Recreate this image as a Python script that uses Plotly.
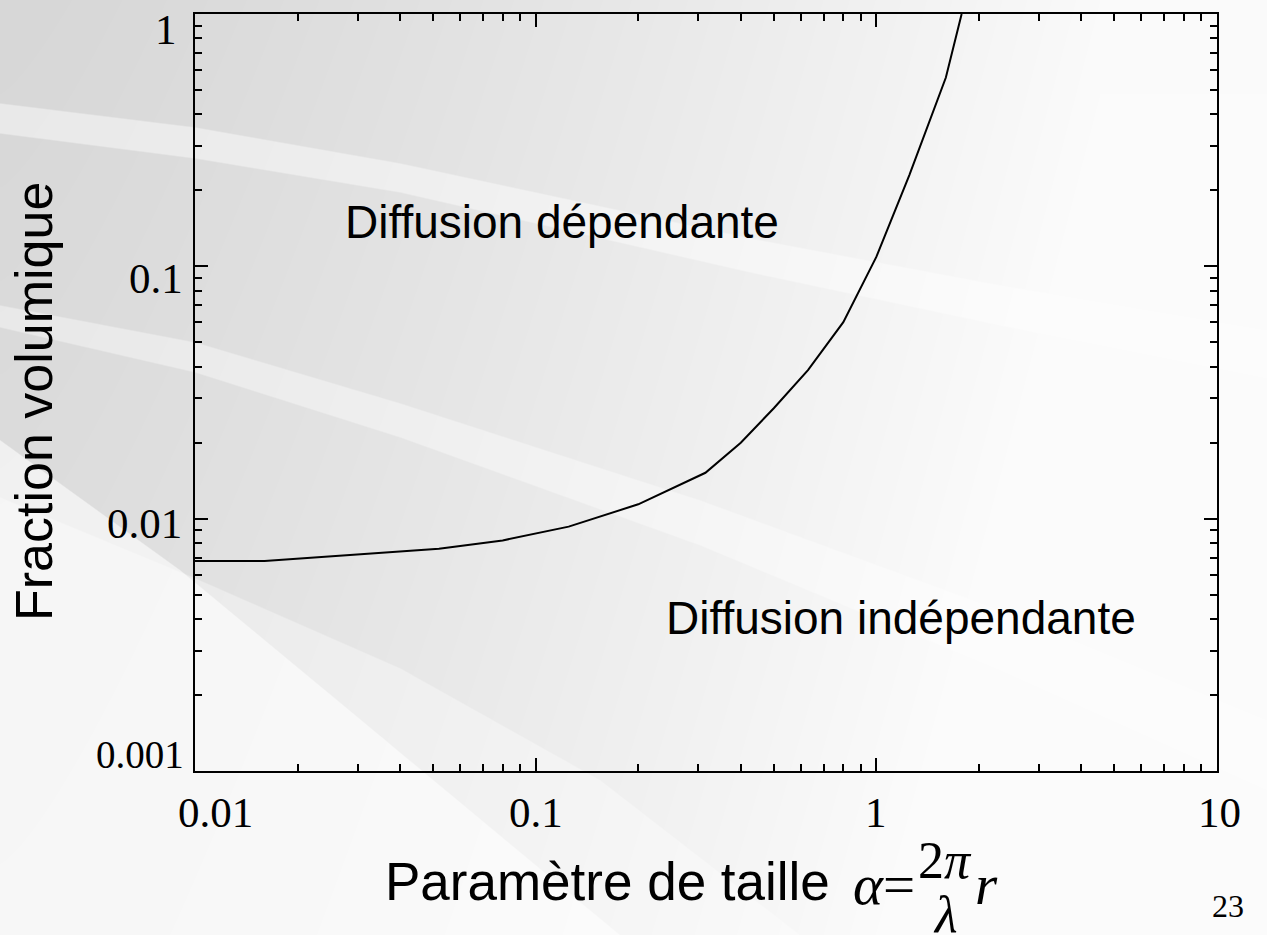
import base64
import math
import struct
import zlib

import numpy as np
import plotly.graph_objects as go

# ---- data -------------------------------------------------------------
size_param = [0.01, 0.016, 0.052, 0.08, 0.125, 0.2, 0.315, 0.4, 0.5, 0.63, 0.8, 1.0, 1.25, 1.6, 1.78]
vol_fraction = [0.0068, 0.0068, 0.0076, 0.0082, 0.0093, 0.0114, 0.0152, 0.0200, 0.0274, 0.0388,
                0.0601, 0.109, 0.23, 0.56, 1.0]

x_major = [0.01, 0.1, 1, 10]
x_major_text = ["0.01", "0.1", "1", "10"]
y_major = [0.001, 0.01, 0.1, 1]
y_major_text = ["0.001", "0.01", "0.1", "1"]

region_labels = ["Diffusion dépendante", "Diffusion indépendante"]
y_title = "Fraction volumique"
x_title = "Paramètre de taille"
slide_number = "23"

# ---- geometry ---------------------------------------------------------
W, H = 1267, 935
ML, MR, MT, MB = 195, 50, 14, 164
PW, PH = W - ML - MR, H - MT - MB


def minor_ticks(lo_exp, hi_exp):
    return [m * 10.0 ** e for e in range(lo_exp, hi_exp) for m in range(2, 10)]


def px_x(px):
    return (px - ML) / PW


def px_y(py):
    return 1 - (py - MT) / PH


# ---- slide background (grey gradient with light swooshes) -------------
def png_uri(gray):
    h, w = gray.shape
    raw = np.hstack([np.zeros((h, 1), np.uint8), gray]).tobytes()

    def chunk(tag, data):
        return (struct.pack(">I", len(data)) + tag + data
                + struct.pack(">I", zlib.crc32(tag + data) & 0xFFFFFFFF))

    png = (b"\x89PNG\r\n\x1a\n"
           + chunk(b"IHDR", struct.pack(">IIBBBBB", w, h, 8, 0, 0, 0, 0))
           + chunk(b"IDAT", zlib.compress(raw, 9))
           + chunk(b"IEND", b""))
    return "data:image/png;base64," + base64.b64encode(png).decode()


def background():
    X, Y = np.meshgrid(np.arange(W, dtype=float), np.arange(H, dtype=float))
    v = 215 + 35 * np.clip(X / 1100, 0, 1) ** 1.3 + 10 * (Y / H)
    v = np.minimum(v, 251)

    def soft(d, w=1.5):
        return np.clip(d / w + 0.5, 0, 1)

    def lighten(mask, a):
        nonlocal v
        v = v + (255 - v) * a * mask

    xs = np.arange(W, dtype=float)
    # upper swoosh
    top_a = np.interp(xs, [0, 195, 400, 750, 1000, 1267], [103, 127, 163, 238, 285, 330])
    bot_a = np.interp(xs, [0, 195, 400, 750, 1000, 1267], [133, 158, 192, 272, 325, 378])
    lighten(soft(Y - top_a[None, :]) * soft(bot_a[None, :] - Y), 0.45)
    # middle swoosh
    top_b = np.interp(xs, [0, 195, 400, 700, 1000, 1267], [305, 342, 403, 500, 610, 720])
    bot_b = np.interp(xs, [0, 195, 400, 700, 1000, 1267], [327, 372, 437, 545, 670, 790])
    lighten(soft(Y - top_b[None, :]) * soft(bot_b[None, :] - Y), 0.4)
    # lower lighter region
    top_c = np.interp(xs, [0, 195, 400, 600, 800], [497, 578, 668, 780, 935])
    lighten(soft(Y - top_c[None, :]), 0.35)
    # bottom diagonal wedge
    top_d = np.interp(xs, [0, 180, 337, 550, 620], [440, 570, 700, 877, 935])
    lighten(soft(Y - top_d[None, :]), 0.6)
    return np.clip(v, 0, 255).astype(np.uint8)


fig = go.Figure()

fig.add_trace(go.Scatter(
    x=size_param, y=vol_fraction, mode="lines",
    line=dict(color="black", width=2), hoverinfo="skip", showlegend=False,
))

axis_common = dict(
    type="log", showline=True, linewidth=2, linecolor="black", mirror="ticks",
    ticks="inside", ticklen=13, tickwidth=2, tickcolor="black",
    showgrid=False, zeroline=False, tickmode="array", showticklabels=False,
)

fig.update_xaxes(
    range=[-2, 1], tickvals=x_major,
    minor=dict(tickmode="array", tickvals=minor_ticks(-2, 1), ticks="inside",
               ticklen=7, tickwidth=1.5, tickcolor="black", showgrid=False),
    **axis_common,
)
fig.update_yaxes(
    range=[-3, 0], tickvals=y_major,
    minor=dict(tickmode="array", tickvals=minor_ticks(-3, 0), ticks="inside",
               ticklen=7, tickwidth=1.5, tickcolor="black", showgrid=False),
    **axis_common,
)

sans = "Liberation Sans, Arial, sans-serif"
serif = "Liberation Serif, Times New Roman, serif"

annotations = []

# tick labels, placed on the axes' own log scale
x_label_shift = [20, 0, 0, 2]
for v, t, dx in zip(x_major, x_major_text, x_label_shift):
    annotations.append(dict(
        text=t, xref="x", x=math.log10(v), yref="paper", y=px_y(812), xshift=dx,
        xanchor="center", yanchor="middle", font=dict(family=serif, size=43),
    ))
y_label_shift = [17, -5, -12, -15]
y_label_right = [186, 184, 185, 179]
y_label_size = [39, 43, 43, 43]
for v, t, dy, xr, fs in zip(y_major, y_major_text, y_label_shift, y_label_right, y_label_size):
    annotations.append(dict(
        text=t, xref="paper", x=px_x(xr), yref="y", y=math.log10(v), yshift=dy,
        xanchor="right", yanchor="middle", font=dict(family=serif, size=fs),
    ))

annotations += [
    dict(text=region_labels[0], x=px_x(562), y=px_y(222), font=dict(family=sans, size=46)),
    dict(text=region_labels[1], x=px_x(901), y=px_y(618), font=dict(family=sans, size=46)),
    dict(text=y_title, x=px_x(34), y=px_y(402), textangle=-90, font=dict(family=sans, size=52)),
    dict(text=x_title, x=px_x(383), y=px_y(882), xanchor="left", font=dict(family=sans, size=53)),
    dict(text="<i>α</i>=", x=px_x(851), y=px_y(884), xanchor="left", font=dict(family=serif, size=57)),
    dict(text="2<i>π</i>", x=px_x(945), y=px_y(860), font=dict(family=serif, size=52)),
    dict(text="<i>λ</i>", x=px_x(945), y=px_y(914), font=dict(family=serif, size=52)),
    dict(text="<i>r</i>", x=px_x(973), y=px_y(884), xanchor="left", font=dict(family=serif, size=57)),
    dict(text=slide_number, x=px_x(1228), y=px_y(906), font=dict(family=serif, size=32)),
]
for a in annotations:
    a.setdefault("xanchor", "center")
    a.setdefault("xref", "paper")
    a.setdefault("yref", "paper")
    a.setdefault("yanchor", "middle")
    a.update(showarrow=False)
    a["font"].setdefault("color", "black")

fig.update_layout(
    width=W, height=H, margin=dict(l=ML, r=MR, t=MT, b=MB, pad=0),
    paper_bgcolor="white", plot_bgcolor="rgba(0,0,0,0)",
    showlegend=False, annotations=annotations,
    images=[dict(
        source=png_uri(background()), xref="paper", yref="paper",
        x=-ML / PW, y=1 + MT / PH, sizex=W / PW, sizey=H / PH,
        xanchor="left", yanchor="top", sizing="stretch", layer="below",
    )],
)

fig.write_html("out.html")
